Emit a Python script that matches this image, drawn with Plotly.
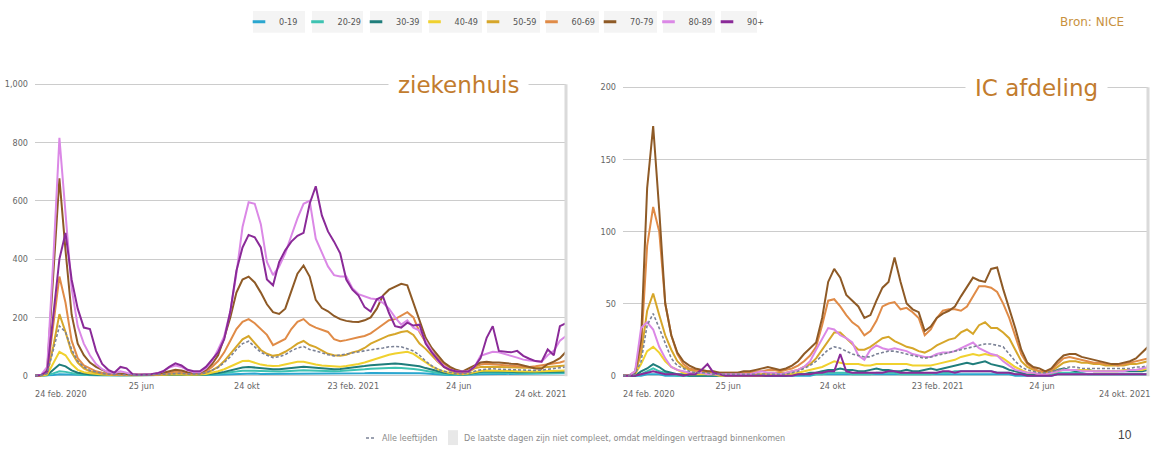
import pandas as pd
import plotly.graph_objects as go

# ---------------- data ----------------
dates = pd.date_range("2020-02-24", periods=88, freq="7D")
groups = ["0-19", "20-29", "30-39", "40-49", "50-59", "60-69", "70-79", "80-89", "90+"]
colors = ["#2aa6cf", "#3ec3b2", "#1f7d7b", "#f0d12e", "#d6a62a", "#e08b47", "#8e5a26", "#db88e6", "#8a2a98"]
all_label = "Alle leeftijden"

# Ziekenhuis (hospital admissions), weekly
h_0_19 = [0,0,0,2,5,4,3,2,1,1, 1,1,1,1,1,1,1,1,1,1, 1,1,1,1,1,1,1,1,2,2,
          3,4,5,6,7,7,7,6,6,6, 6,6,7,7,7,7,7,6,6,6, 6,7,7,8,8,9,9,10,10,10,
          10,9,9,8,7,5,4,3,2,2, 2,3,4,5,6,6,6,6,6,6, 6,6,7,7,7,7,8,8]
h_20_29 = [0,0,1,8,15,13,8,5,3,2, 2,1,1,1,1,1,1,1,1,1, 1,1,2,2,2,1,1,1,3,4,
           6,8,11,14,17,18,17,16,15,14, 14,15,17,18,19,18,17,16,15,15, 16,17,18,20,22,24,25,26,27,27,
           26,25,23,20,16,12,9,6,4,3, 3,5,8,10,11,11,10,10,9,9, 8,8,8,8,9,9,9,10]
h_30_39 = [0,0,2,20,38,32,18,10,6,4, 3,2,2,1,1,1,1,1,1,1, 2,2,3,3,3,2,2,3,4,6,
           9,13,18,24,28,30,28,25,23,22, 22,24,27,30,31,29,27,25,23,22, 23,25,27,30,33,36,38,40,41,42,
           40,38,36,32,26,20,14,10,7,5, 4,6,10,13,15,15,14,14,13,12, 12,11,11,12,12,13,13,14]
h_40_49 = [0,0,4,45,82,70,40,20,12,8, 5,4,3,2,2,2,1,1,1,2, 2,3,4,5,4,3,3,4,6,10,
           15,22,32,42,50,51,45,38,35,33, 34,38,44,48,48,42,38,35,33,31, 31,33,36,40,45,52,58,65,72,76,
           80,82,75,60,45,32,22,14,9,6, 5,7,12,16,18,18,17,17,16,15, 14,14,14,15,16,16,17,18]
h_50_59 = [0,1,8,100,211,150,80,45,25,15, 10,6,4,3,3,2,2,2,2,2, 3,4,6,8,7,5,5,6,10,18,
           30,50,75,100,125,136,110,88,75,68, 72,82,95,110,119,105,98,85,75,70, 68,72,80,85,95,110,120,130,138,143,
           150,153,140,110,92,70,48,30,17,10, 8,12,25,30,31,31,30,30,29,28, 27,26,27,28,30,30,32,35]
h_60_69 = [0,1,10,170,340,250,120,60,35,25, 15,10,6,4,4,3,3,2,2,3, 4,6,10,14,12,8,7,8,15,30,
           50,80,120,160,185,194,180,160,140,105, 115,126,160,185,194,175,165,158,150,125, 118,122,128,132,136,145,160,175,190,194,
           205,218,200,150,115,85,60,40,25,15, 8,15,30,38,41,40,38,36,34,33, 31,30,32,35,38,41,45,51]
h_70_79 = [0,2,20,330,677,430,210,110,70,45, 30,20,12,8,8,6,4,3,3,4, 6,10,15,20,18,12,10,10,20,40,
           70,130,200,285,330,340,320,285,245,218, 212,230,290,350,378,340,260,232,221,205, 194,188,185,184,190,200,230,275,295,305,
           315,310,250,190,130,95,68,45,30,20, 14,24,35,45,48,45,45,42,41,40, 35,30,25,24,40,48,60,82]
h_80_89 = [0,3,30,400,816,560,300,170,110,70, 40,22,12,8,15,10,5,3,3,5, 8,15,28,35,30,18,12,12,25,50,
           90,135,220,350,510,595,590,520,390,345, 375,420,480,540,590,600,470,420,375,345, 340,340,300,280,272,265,262,250,230,200,
           175,190,165,155,120,85,50,34,20,14, 14,14,30,68,75,82,80,75,68,62, 55,52,50,48,70,85,120,136]
h_90 = [0,2,15,200,400,490,330,230,165,160, 85,40,20,10,30,25,5,3,3,5, 8,15,30,42,35,20,15,15,30,55,
        80,125,220,360,440,483,475,440,330,310, 390,430,460,480,490,590,650,550,495,460, 420,330,295,275,235,220,262,272,215,170,
        165,182,172,175,110,80,55,30,20,14, 14,14,30,60,130,170,85,82,80,85, 68,58,50,48,90,70,170,180]
h_all = [0,1,8,90,170,150,90,50,30,18, 12,8,5,4,4,3,3,2,2,3, 4,5,7,9,8,6,5,6,10,18,
         28,45,65,90,110,118,100,80,70,62, 65,72,85,95,100,90,85,78,72,68, 70,74,78,82,85,90,92,95,99,100,
         99,92,85,70,50,34,22,15,10,7, 6,8,15,20,22,24,22,21,20,19, 18,18,18,19,22,24,27,30]

# IC afdeling (ICU admissions), weekly
i_0_19 = [0,0,0,0,1,1,1,0,0,0, 0,0,0,0,0,0,0,0,0,0, 0,0,0,0,0,0,0,0,0,0,
          0,0,1,1,1,1,1,1,1,1, 1,1,1,1,1,1,1,1,1,1, 1,1,1,1,1,1,1,1,1,1,
          1,1,1,1,1,0,0,0,0,0, 0,0,1,1,1,1,1,1,1,1, 1,1,1,1,1,1,1,1]
i_20_29 = [0,0,0,1,3,5,3,2,1,0, 0,0,0,0,0,0,0,0,0,0, 0,0,0,0,0,0,0,0,0,1,
           1,1,1,1,2,2,2,2,1,1, 1,1,2,2,2,2,1,1,1,1, 1,1,2,2,2,3,3,3,3,3,
           3,3,2,2,2,1,1,1,0,0, 0,1,2,2,2,2,2,1,1,1, 1,1,1,1,1,1,1,1]
i_30_39 = [0,0,0,3,5,8,6,3,2,1, 1,0,0,0,0,0,0,0,0,0, 0,0,0,0,0,0,0,0,1,1,
           1,2,2,3,4,4,5,4,4,3, 3,4,5,4,4,3,3,4,3,3, 4,5,4,5,6,7,8,9,8,9,
           10,8,7,6,4,3,2,1,1,1, 1,2,4,5,4,3,3,4,3,3, 3,3,3,3,3,3,3,4]
i_40_49 = [0,0,1,8,17,20,16,10,6,4, 2,1,1,1,1,1,0,0,0,0, 0,0,0,0,1,1,1,1,1,2,
           3,4,5,6,8,10,9,8,8,8, 7,7,8,8,8,8,8,8,7,7, 7,7,8,9,10,11,13,14,15,14,
           15,14,14,12,9,6,4,2,2,1, 1,2,3,4,4,4,4,4,3,3, 3,3,3,4,4,4,4,5]
i_50_59 = [0,0,2,15,45,57,42,28,18,10, 6,4,3,2,2,1,1,1,1,1, 1,1,1,1,2,2,2,2,3,4,
           6,8,12,18,24,30,30,26,22,18, 18,20,23,26,27,24,22,20,19,17, 16,18,21,23,25,26,30,32,29,35,
           37,33,33,30,26,18,10,6,4,3, 2,3,6,9,10,10,9,9,8,8, 7,7,7,7,8,8,9,10]
i_60_69 = [0,0,3,20,90,117,100,50,28,15, 8,5,4,3,3,2,2,2,2,2, 2,2,3,3,4,4,3,4,5,7,
           10,14,20,35,52,53,48,42,37,34, 28,31,38,48,50,51,46,47,44,40, 28,32,40,45,46,46,45,48,55,62,
           62,61,58,50,40,28,15,8,5,3, 3,4,8,12,13,12,11,10,9,9, 8,8,7,8,9,10,11,12]
i_70_79 = [0,0,2,25,130,173,115,50,28,16, 10,7,5,4,3,3,2,2,2,2, 3,3,4,5,6,5,4,5,7,10,
           15,19,23,40,65,74,68,56,52,48, 40,42,52,61,65,82,65,50,46,44, 31,34,40,43,45,48,55,62,68,66,
           65,74,75,60,47,33,18,9,6,5, 3,5,10,14,15,15,13,12,11,10, 9,8,8,9,10,12,16,20]
i_80_89 = [0,0,3,33,37,32,20,12,6,4, 3,2,2,2,1,1,1,1,1,1, 1,1,2,3,2,2,1,2,3,4,
           6,10,18,26,33,32,28,26,23,14, 11,18,21,19,18,19,18,17,15,14, 13,13,15,16,16,17,19,21,23,19,
           17,15,14,10,7,4,3,2,2,1, 1,2,3,4,4,4,3,3,3,3, 3,3,3,3,4,4,5,6]
i_90 = [0,0,0,1,2,3,2,1,1,1, 0,1,1,4,8,2,1,0,0,0, 0,0,0,0,0,0,0,0,0,1,
        1,1,2,2,3,3,15,3,2,2, 2,2,2,2,3,3,2,2,2,2, 2,2,2,3,3,2,3,3,3,3,
        3,3,2,2,2,1,1,0,0,0, 0,0,1,1,1,1,1,1,1,1, 1,1,1,1,1,1,1,1]
i_all = [0,0,1,10,35,43,33,22,12,7, 5,3,2,2,2,1,1,1,1,1, 1,1,1,1,1,1,1,1,2,3,
         5,7,10,14,18,20,19,17,15,14, 13,13,15,16,17,17,16,15,14,13, 12,13,14,15,16,17,18,19,20,21,
         22,22,21,20,15,10,6,4,3,2, 2,3,4,5,6,6,5,5,5,5, 5,5,5,5,5,6,6,7]

hosp_series = [h_0_19, h_20_29, h_30_39, h_40_49, h_50_59, h_60_69, h_70_79, h_80_89, h_90]
ic_series = [i_0_19, i_20_29, i_30_39, i_40_49, i_50_59, i_60_69, i_70_79, i_80_89, i_90]

x_tick_dates = ["2020-06-25", "2020-10-24", "2021-02-23", "2021-06-24"]
x_tick_text = ["25 jun", "24 okt", "23 feb. 2021", "24 jun"]
x_first_label = "24 feb. 2020"
x_last_label = "24 okt. 2021"
h_yticks = [0, 200, 400, 600, 800, 1000]
h_ytext = ["0", "200", "400", "600", "800", "1,000"]
i_yticks = [0, 50, 100, 150, 200]
i_ytext = ["0", "50", "100", "150", "200"]

# ---------------- figure ----------------
W, H = 1153, 452
def px(x):
    return x / W
def py(y):
    return (H - y) / H

NARROW = "Liberation Sans Narrow, DejaVu Sans Condensed, Arial Narrow, sans-serif"
fig = go.Figure()

for ser_list, xa, ya, allv in [(hosp_series, "x", "y", h_all), (ic_series, "x2", "y2", i_all)]:
    for g, c, vals in zip(groups, colors, ser_list):
        fig.add_trace(go.Scatter(x=dates, y=vals, mode="lines", name=g,
                                 line=dict(color=c, width=2), xaxis=xa, yaxis=ya,
                                 showlegend=False))
    fig.add_trace(go.Scatter(x=dates, y=allv, mode="lines", name=all_label,
                             line=dict(color="#7b8296", width=1.6, dash="3px,2px"),
                             xaxis=xa, yaxis=ya, showlegend=False))

# legend entries (short line symbols)
for g, c in zip(groups, colors):
    fig.add_trace(go.Scatter(x=[None], y=[None], mode="markers", name=g,
                             marker=dict(symbol="line-ew-open", size=9, color=c,
                                         line=dict(color=c, width=3)),
                             showlegend=True))

start, end = dates[0], dates[-1]
axis_font = dict(family=NARROW, size=9, color="#666666")
common_x = dict(range=[start, end], tickvals=x_tick_dates, ticktext=x_tick_text,
                showgrid=False, zeroline=False, showline=False, ticks="",
                tickfont=axis_font, tickangle=0)
common_y = dict(showgrid=True, gridcolor="#cccccc", gridwidth=1, zeroline=False,
                showline=False, ticks="", tickfont=axis_font, ticklabelstandoff=6)

fig.update_layout(
    width=W, height=H, autosize=False,
    margin=dict(l=0, r=0, t=0, b=0),
    paper_bgcolor="white", plot_bgcolor="white",
    xaxis=dict(domain=[px(35), px(566)], anchor="y", **common_x),
    yaxis=dict(domain=[py(379.94), py(80.06)], range=[-10, 1010], anchor="x",
               tickvals=h_yticks, ticktext=h_ytext, **common_y),
    xaxis2=dict(domain=[px(623), px(1148)], anchor="y2", **common_x),
    yaxis2=dict(domain=[py(379.91), py(83.09)], range=[-2, 202], anchor="x2",
                tickvals=i_yticks, ticktext=i_ytext, **common_y),
    legend=dict(orientation="h", x=px(239), xanchor="left", y=py(20), yanchor="middle",
                font=dict(family=NARROW, size=9, color="#555555"),
                entrywidth=13.5, entrywidthmode="pixels", itemwidth=30,
                bgcolor="rgba(0,0,0,0)", tracegroupgap=0),
    showlegend=True,
)

annotations = []
shapes = []
label_y = py(395)
for xa in ["x", "x2"]:
    annotations.append(dict(text=x_first_label, xref=xa, x=start, xanchor="left",
                            yref="paper", y=label_y, yanchor="middle", showarrow=False,
                            font=axis_font, xshift=-2))
    annotations.append(dict(text=x_last_label, xref=xa, x=end, xanchor="right",
                            yref="paper", y=label_y, yanchor="middle", showarrow=False,
                            font=axis_font, xshift=(2 if xa == "x" else 4)))
    shapes.append(dict(type="line", xref=xa + " domain", x0=1, x1=1,
                       yref=("y" if xa == "x" else "y2") + " domain", y0=0.008, y1=0.99,
                       line=dict(color="#dadada", width=3)))

title_font = dict(family="DejaVu Sans, Verdana, sans-serif", size=23, color="#c27c2e")
annotations.append(dict(text="ziekenhuis", xref="paper", yref="paper", x=px(458), y=py(84),
                        xanchor="center", yanchor="middle", showarrow=False,
                        font=title_font, bgcolor="white", borderpad=9))
annotations.append(dict(text="IC afdeling", xref="paper", yref="paper", x=px(1036), y=py(87),
                        xanchor="center", yanchor="middle", showarrow=False,
                        font=title_font, bgcolor="white", borderpad=9))
annotations.append(dict(text="Bron: NICE", xref="paper", yref="paper", x=px(1092), y=py(20),
                        xanchor="center", yanchor="middle", showarrow=False,
                        font=dict(family="DejaVu Sans, Verdana, sans-serif", size=12, color="#c8913e")))
annotations.append(dict(text="10", xref="paper", yref="paper", x=px(1125), y=py(437),
                        xanchor="center", yanchor="middle", showarrow=False,
                        font=dict(family="Liberation Sans, Arial, sans-serif", size=12, color="#444444")))
note_font = dict(family=NARROW, size=9, color="#8a8a8a")
annotations.append(dict(text=all_label, xref="paper", yref="paper", x=px(380), y=py(440),
                        xanchor="left", yanchor="middle", showarrow=False, font=note_font))
annotations.append(dict(text="De laatste dagen zijn niet compleet, omdat meldingen vertraagd binnenkomen",
                        xref="paper", yref="paper", x=px(462), y=py(440),
                        xanchor="left", yanchor="middle", showarrow=False, font=note_font))
shapes.append(dict(type="line", xref="paper", yref="paper", x0=px(366), x1=px(376),
                   y0=py(440), y1=py(440), line=dict(color="#7b8296", width=1.5, dash="3px,2px")))
shapes.append(dict(type="rect", xref="paper", yref="paper", x0=px(448), x1=px(458),
                   y0=py(447), y1=py(432), fillcolor="#e8e8e8", line=dict(width=0)))

# legend item boxes
box_x = [(253, 305), (312, 363), (370, 422), (429, 482), (487, 540), (546, 599), (604, 657), (663, 715), (721, 757)]
for x0, x1 in box_x:
    shapes.append(dict(type="rect", xref="paper", yref="paper", x0=px(x0), x1=px(x1),
                       y0=py(31), y1=py(9), fillcolor="#f4f4f4", line=dict(width=0), layer="below"))

fig.update_layout(annotations=annotations, shapes=shapes)
fig.write_html("out.html", config={"displayModeBar": False},
               post_script="document.body.style.margin='0';")
